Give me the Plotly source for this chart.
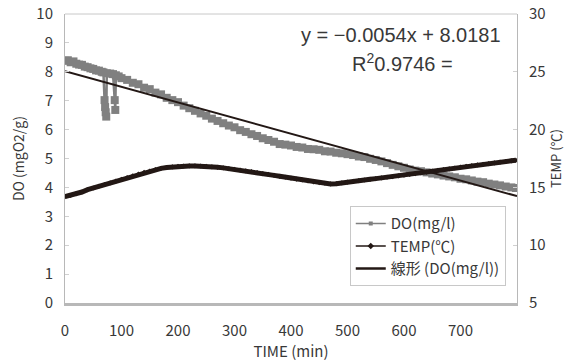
import plotly.graph_objects as go

# ---------------- data ----------------
do_time = [0, 5, 10, 15, 20, 25, 30, 35, 40, 45, 50, 55, 60, 65, 68,
           70, 71, 72, 73, 74, 80, 85, 88, 89, 90, 95,
           100, 110, 120, 130, 140, 150, 160, 170, 180, 190,
           200, 210, 220, 230, 240, 250, 260, 270, 280, 290,
           300, 310, 320, 330, 340, 350, 360, 370, 380, 390,
           400, 410, 420, 430, 440, 450, 460, 470, 480, 490,
           500, 510, 520, 530, 540, 550, 560, 570, 580, 590,
           600, 610, 620, 630, 640, 650, 660, 670, 680, 690,
           700, 710, 720, 730, 740, 750, 760, 770, 780, 790, 798]
do_vals = [8.38, 8.40, 8.33, 8.36, 8.28, 8.25, 8.24, 8.18, 8.16, 8.12, 8.10, 8.05, 8.04, 8.00, 7.98,
           7.02, 6.78, 6.60, 6.45, 7.95, 7.94, 7.92, 7.02, 6.68, 7.88, 7.84,
           7.78, 7.72, 7.62, 7.57, 7.45, 7.40, 7.28, 7.22, 7.10, 7.02,
           6.95, 6.83, 6.74, 6.65, 6.56, 6.48, 6.38, 6.30, 6.22, 6.14,
           6.08, 5.98, 5.92, 5.84, 5.78, 5.70, 5.64, 5.58, 5.50, 5.48,
           5.45, 5.40, 5.38, 5.33, 5.32, 5.30, 5.25, 5.24, 5.20, 5.18,
           5.15, 5.12, 5.07, 5.05, 4.99, 4.95, 4.90, 4.84, 4.78, 4.73,
           4.68, 4.62, 4.58, 4.56, 4.52, 4.48, 4.45, 4.41, 4.38, 4.35,
           4.30, 4.28, 4.24, 4.20, 4.18, 4.13, 4.10, 4.07, 4.03, 4.00, 3.98]

temp_time = [0, 10, 20, 30, 40, 50, 60, 70, 80, 90,
             100, 110, 120, 130, 140, 150, 160, 170, 180, 190,
             200, 210, 220, 230, 240, 250, 260, 270, 280, 290,
             300, 310, 320, 330, 340, 350, 360, 370, 380, 390,
             400, 410, 420, 430, 440, 450, 460, 470, 480, 490,
             500, 510, 520, 530, 540, 550, 560, 570, 580, 590,
             600, 610, 620, 630, 640, 650, 660, 670, 680, 690,
             700, 710, 720, 730, 740, 750, 760, 770, 780, 790, 798]
temp_vals = [14.20, 14.30, 14.45, 14.60, 14.80, 14.95, 15.10, 15.25, 15.40, 15.55,
             15.70, 15.85, 16.00, 16.15, 16.30, 16.42, 16.55, 16.65, 16.72, 16.78,
             16.82, 16.85, 16.86, 16.86, 16.85, 16.82, 16.78, 16.74, 16.69, 16.63,
             16.57, 16.50, 16.43, 16.36, 16.28, 16.20, 16.12, 16.04, 15.96, 15.88,
             15.80, 15.72, 15.64, 15.56, 15.48, 15.42, 15.36, 15.30, 15.32, 15.40,
             15.46, 15.52, 15.58, 15.64, 15.70, 15.76, 15.82, 15.88, 15.94, 16.00,
             16.06, 16.12, 16.18, 16.25, 16.32, 16.40, 16.47, 16.54, 16.61, 16.68,
             16.75, 16.82, 16.88, 16.94, 17.00, 17.06, 17.12, 17.18, 17.24, 17.30, 17.35]

trend_slope = -0.0054
trend_intercept = 8.0181
trend_r2 = 0.9746
trend_x = [0, 800]
trend_y = [trend_slope * x + trend_intercept for x in trend_x]

x_ticks = [0, 100, 200, 300, 400, 500, 600, 700]
y_ticks = [0, 1, 2, 3, 4, 5, 6, 7, 8, 9, 10]
y2_ticks = [5, 10, 15, 20, 25, 30]

series_names = ["DO(mg/l)", "TEMP(℃)", "線形 (DO(mg/l))"]

# ---------------- figure ----------------
FONT = "Noto Sans CJK JP, Noto Sans, sans-serif"
TXT = "#383838"
GRAY = "#808080"
DARK = "#231815"

fig = go.Figure()
# data traces (legend shown through small-symbol proxies below)
fig.add_trace(go.Scatter(
    x=do_time, y=do_vals, name=series_names[0], mode="lines+markers",
    line=dict(color=GRAY, width=2.5),
    marker=dict(symbol="square", size=8, color=GRAY),
    yaxis="y", showlegend=False, legendgroup="do"))
fig.add_trace(go.Scatter(
    x=temp_time, y=temp_vals, name=series_names[1], mode="lines+markers",
    line=dict(color=DARK, width=5),
    marker=dict(symbol="diamond", size=4, color=DARK),
    yaxis="y2", showlegend=False, legendgroup="temp"))
fig.add_trace(go.Scatter(
    x=trend_x, y=trend_y, name=series_names[2], mode="lines",
    line=dict(color=DARK, width=2),
    yaxis="y", showlegend=False, legendgroup="trend"))

# legend proxies
fig.add_trace(go.Scatter(
    x=[None], y=[None], name=series_names[0], mode="lines+markers",
    line=dict(color=GRAY, width=1.5), marker=dict(symbol="square", size=4, color=GRAY),
    yaxis="y", legendgroup="do"))
fig.add_trace(go.Scatter(
    x=[None], y=[None], name=series_names[1], mode="lines+markers",
    line=dict(color=DARK, width=1.5), marker=dict(symbol="diamond", size=5, color=DARK),
    yaxis="y", legendgroup="temp"))
fig.add_trace(go.Scatter(
    x=[None], y=[None], name=series_names[2], mode="lines",
    line=dict(color=DARK, width=2.5),
    yaxis="y", legendgroup="trend"))

fig.add_annotation(
    text="y = −0.0054x + 8.0181", xref="paper", yref="paper",
    x=0.97, y=0.927, xanchor="right", yanchor="middle", showarrow=False,
    font=dict(family="Liberation Sans, Arial, sans-serif", size=20, color=TXT))
fig.add_annotation(
    text="R<sup>2</sup>%.4f =" % trend_r2, xref="paper", yref="paper",
    x=0.746, y=0.832, xanchor="center", yanchor="middle", showarrow=False,
    font=dict(family="Liberation Sans, Arial, sans-serif", size=20, color=TXT))

fig.update_layout(
    width=573, height=363,
    margin=dict(l=65, r=56, t=14, b=60, autoexpand=False),
    paper_bgcolor="white", plot_bgcolor="white",
    font=dict(family=FONT, size=15, color=TXT),
    showlegend=True,
    legend=dict(x=0.63, y=0.335, xanchor="left", yanchor="top",
                bordercolor="#c8c8c8", borderwidth=1, bgcolor="white",
                font=dict(family=FONT, size=15, color=TXT),
                tracegroupgap=0),
    xaxis=dict(range=[0, 800], tickvals=x_ticks, showgrid=False, zeroline=False,
               showline=True, linecolor="#b8b8b8", linewidth=3, mirror=False,
               ticks="", ticklabelstandoff=12, automargin=False,
               title=dict(text="TIME (min)", standoff=0, font=dict(size=15))),
    yaxis=dict(range=[0, 10], tickvals=y_ticks, showgrid=False, zeroline=False,
               showline=True, linecolor="#b8b8b8", linewidth=1,
               ticks="inside", ticklen=4, tickcolor="#d0d0d0",
               ticklabelstandoff=8, automargin=False,
               title=dict(text="DO (mgO2/g)", standoff=8, font=dict(size=14))),
    yaxis2=dict(range=[5, 30], tickvals=y2_ticks, overlaying="y", side="right",
                showgrid=False, zeroline=False,
                showline=True, linecolor="#b8b8b8", linewidth=1,
                ticks="inside", ticklen=4, tickcolor="#d0d0d0",
                ticklabelstandoff=8, automargin=False,
                title=dict(text="TEMP (℃)", standoff=6, font=dict(size=13))),
)
# top border of plot area
fig.add_shape(type="line", xref="paper", yref="paper", x0=0, x1=1, y0=1, y1=1,
              line=dict(color="#c8c8c8", width=1))

# remove the default 8px page margin so the figure sits at the window's corner
fig.write_html("out.html",
               config={"displayModeBar": False},
               post_script="document.body.style.margin='0px';document.body.style.overflow='hidden';")
